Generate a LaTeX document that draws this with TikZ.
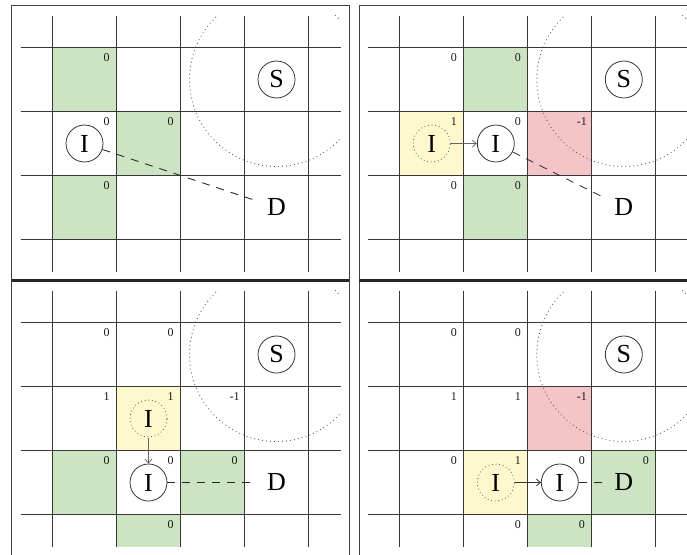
\documentclass[tikz,border=0pt]{standalone}
\usepackage{fontspec}
\setmainfont{Liberation Serif}
\usetikzlibrary{arrows.meta}
\definecolor{cgreen}{RGB}{205,228,194}
\definecolor{cyellow}{RGB}{253,249,205}
\definecolor{cred}{RGB}{245,196,198}
\tikzset{
 gridline/.style={draw=black!78, line width=0.9pt},
 framel/.style={draw=black!75, line width=0.9pt},
 bigdots/.style={draw=black!65, line width=1.2pt, line cap=round, dash pattern=on 0pt off 4pt},
 circ/.style={circle, draw=black!80, line width=0.8pt, minimum size=37pt, inner sep=0pt, font=\fontsize{26}{26}\selectfont},
 ghost/.style={circle, draw=black!65, line width=1.1pt, line cap=round, dash pattern=on 0pt off 3.6pt, minimum size=37pt, inner sep=0pt, font=\fontsize{26}{26}\selectfont},
 dnode/.style={circle, minimum size=40pt, inner sep=0pt, font=\fontsize{26}{26}\selectfont},
 num/.style={font=\fontsize{12}{12}\selectfont, text=black!90, inner sep=0pt},
 dashline/.style={draw=black!85, line width=0.8pt, dash pattern=on 8pt off 7pt},
 arr/.style={draw=black!60, line width=0.8pt, -{Straight Barb[length=4pt,width=7pt]}},
 gridbase/.pic={
   \foreach \c in {0,...,4} \draw[gridline] (\c,-0.5) -- (\c,3.5);
   \foreach \r in {0,...,3} \draw[gridline] (-0.5,\r) -- (4.5,\r);
   \begin{scope}
     \clip (-0.5,-0.5) rectangle (4.5,3.5);
     \draw[bigdots] (3.5,0.5) circle[radius=87pt];
   \end{scope}
 },
}
\begin{document}
\begin{tikzpicture}
\useasboundingbox (0,0) rectangle (687pt,-554pt);
\clip (0,0) rectangle (687pt,-554pt);

% ---------- panel 1 ----------
\begin{scope}[shift={(52.5pt,-47.5pt)}, x=64pt, y=-64pt]
 \fill[cgreen] (0,0) rectangle (1,1);
 \fill[cgreen] (1,1) rectangle (2,2);
 \fill[cgreen] (0,2) rectangle (1,3);
 \pic {gridbase};
 \node[circ] (S1) at (3.5,0.5) {S};
 \node[circ] (I1) at (0.5,1.5) {I};
 \node[dnode] (D1) at (3.5,2.5) {D};
 \draw[dashline] (I1) -- (D1);
 \foreach \c/\r/\t in {0/0/0, 0/1/0, 1/1/0, 0/2/0}
   \node[num] (pa\c\r) at (\c+0.844,\r+0.156) {\t};
\end{scope}

% ---------- panel 2 ----------
\begin{scope}[shift={(399.8pt,-47.5pt)}, x=64pt, y=-64pt]
 \fill[cgreen] (1,0) rectangle (2,1);
 \fill[cgreen] (1,2) rectangle (2,3);
 \fill[cred] (2,1) rectangle (3,2);
 \fill[cyellow] (0,1) rectangle (1,2);
 \pic {gridbase};
 \node[circ] (S2) at (3.5,0.5) {S};
 \node[ghost] (Iy2) at (0.5,1.5) {I};
 \node[circ] (I2) at (1.5,1.5) {I};
 \node[dnode] (D2) at (3.5,2.5) {D};
 \draw[arr] (Iy2) -- (I2);
 \draw[dashline] (I2) -- (D2);
 \foreach \c/\r/\t in {0/0/0, 1/0/0, 0/1/1, 1/1/0, 2/1/-1, 0/2/0, 1/2/0}
   \node[num] (pb\c\r) at (\c+0.844,\r+0.156) {\t};
\end{scope}

% ---------- panel 3 ----------
\begin{scope}[shift={(52.5pt,-322.5pt)}, x=64pt, y=-64pt]
 \fill[cyellow] (1,1) rectangle (2,2);
 \fill[cgreen] (0,2) rectangle (1,3);
 \fill[cgreen] (2,2) rectangle (3,3);
 \fill[cgreen] (1,3) rectangle (2,3.5);
 \pic {gridbase};
 \node[circ] (S3) at (3.5,0.5) {S};
 \node[ghost] (Iy3) at (1.5,1.5) {I};
 \node[circ] (I3) at (1.5,2.5) {I};
 \node[dnode] (D3) at (3.5,2.5) {D};
 \draw[arr] (Iy3) -- (I3);
 \draw[dashline] (I3) -- (D3);
 \foreach \c/\r/\t in {0/0/0, 1/0/0, 0/1/1, 1/1/1, 2/1/-1, 0/2/0, 1/2/0, 2/2/0, 1/3/0}
   \node[num] (pc\c\r) at (\c+0.844,\r+0.156) {\t};
\end{scope}

% ---------- panel 4 ----------
\begin{scope}[shift={(399.8pt,-322.5pt)}, x=64pt, y=-64pt]
 \fill[cred] (2,1) rectangle (3,2);
 \fill[cyellow] (1,2) rectangle (2,3);
 \fill[cgreen] (3,2) rectangle (4,3);
 \fill[cgreen] (2,3) rectangle (3,3.5);
 \pic {gridbase};
 \node[circ] (S4) at (3.5,0.5) {S};
 \node[ghost] (Iy4) at (1.5,2.5) {I};
 \node[circ] (I4) at (2.5,2.5) {I};
 \node[dnode] (D4) at (3.5,2.5) {D};
 \draw[arr, draw=black!80] (Iy4) -- (I4);
 \draw[dashline] (I4) -- (D4);
 \foreach \c/\r/\t in {0/0/0, 1/0/0, 0/1/1, 1/1/1, 2/1/-1, 0/2/0, 1/2/1, 2/2/0, 3/2/0, 1/3/0, 2/3/0}
   \node[num] (pd\c\r) at (\c+0.844,\r+0.156) {\t};
\end{scope}

% ---------- frames ----------
\draw[framel] (11.7pt,-5.5pt) rectangle (349.3pt,-281pt);
\draw[framel] (700pt,-5.5pt) -- (359.3pt,-5.5pt) -- (359.3pt,-560pt);
\draw[framel] (11.7pt,-281pt) -- (11.7pt,-560pt);
\draw[framel] (349.3pt,-281pt) -- (349.3pt,-560pt);
\draw[black!85, line width=2.4pt] (11.7pt,-280.5pt) -- (349.3pt,-280.5pt);
\draw[black!85, line width=2.4pt] (359.3pt,-280.5pt) -- (700pt,-280.5pt);
\end{tikzpicture}
\end{document}
